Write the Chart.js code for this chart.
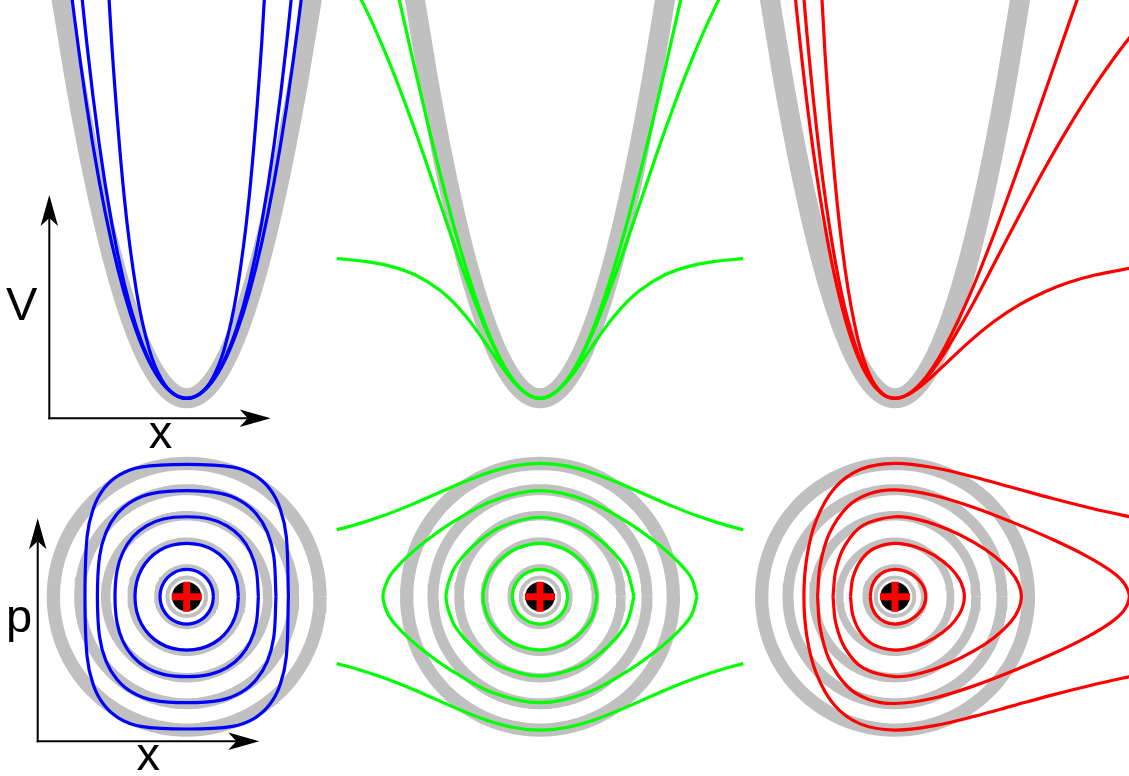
<!DOCTYPE html>
<html>
<head>
<meta charset="utf-8">
<script src="https://cdn.jsdelivr.net/npm/chart.js@4.4.1/dist/chart.umd.min.js"></script>
<style>
  html, body { margin: 0; padding: 0; background: #ffffff; }
  #wrap { position: relative; width: 1129px; height: 776px; }
  canvas { display: block; }
</style>
</head>
<body>
<div id="wrap"><canvas id="c" width="1129" height="776"></canvas></div>
<script>
// ---------- Top row: potential wells V(x) (half-wells are mirrored about x = 0) ----------
const wellX          = [0, 0.5, 1, 1.5, 2, 2.5, 3, 3.5, 4, 4.5, 5, 5.5];
const harmonicV      = [0, 0.125, 0.5, 1.125, 2, 3.125, 4.5, 6.125, 8, 10.125, 12.5, 15.125];

// stiffened wells (blue)
const quarticWeakV   = [0, 0.125, 0.505, 1.148, 2.074, 3.305, 4.873, 6.815, 9.178, 12.011, 15.375, 19.33];
const quarticMidX    = [0, 0.5, 1, 1.5, 2, 2.5, 3, 3.5, 4, 4.5, 5];
const quarticMidV    = [0, 0.126, 0.512, 1.188, 2.198, 3.609, 5.504, 7.986, 11.174, 15.21, 20.25];
const quarticStrongX = [0, 0.5, 1, 1.5, 2, 2.5, 3, 3.25, 3.5];
const quarticStrongV = [0, 0.130, 0.582, 1.540, 3.312, 6.328, 11.142, 14.43, 18.43];

// softened, saturating wells (green)
const softShallowX   = [0, 0.5, 1, 1.5, 2, 2.5, 3, 3.5, 4, 5, 6, 7, 8.13];
const softShallowV   = [0, 0.123, 0.467, 0.963, 1.529, 2.093, 2.604, 3.039, 3.390, 3.876, 4.150, 4.297, 4.382];
const softMidX       = [0, 1, 2, 3, 4, 5, 6, 7, 8];
const softMidV       = [0, 0.491, 1.863, 3.851, 6.130, 8.414, 10.49, 12.27, 13.72];
const softDeepX      = [0, 1, 2, 3, 4, 5, 6, 6.5];
const softDeepV      = [0, 0.4965, 1.939, 4.191, 7.064, 10.335, 13.79, 15.52];

// asymmetric (Morse-like) wells (red)
const morseShallowX  = [-3.2, -2.8, -2.4, -2, -1.5, -1, -0.5, 0, 0.5, 1, 1.5, 2, 3, 4, 5, 6, 7, 8, 9.5];
const morseShallowV  = [16.54, 10.833, 6.828, 4.077, 1.908, 0.7088, 0.1488, 0, 0.1064, 0.3623, 0.6972, 1.0653, 1.795, 2.433, 2.948, 3.346, 3.647, 3.869, 4.097];
const morseMidX      = [-4, -3.5, -3, -2.5, -2, -1.5, -1, -0.5, 0, 0.5, 1, 1.5, 2, 3, 4, 5, 6, 7, 8, 9, 9.5];
const morseMidV      = [16.10, 11.253, 7.555, 4.799, 2.812, 1.450, 0.5917, 0.1359, 0, 0.1153, 0.4250, 0.8817, 1.4494, 2.794, 4.276, 5.777, 7.226, 8.580, 9.819, 10.93, 11.44];
const morseDeepX     = [-4.4, -4, -3.5, -3, -2.5, -2, -1.5, -1, -0.5, 0, 0.5, 1, 1.5, 2, 3, 4, 5, 6, 7, 8];
const morseDeepV     = [16.09, 12.68, 9.144, 6.337, 4.152, 2.507, 1.332, 0.5595, 0.1321, 0, 0.1184, 0.4481, 0.9551, 1.611, 3.261, 5.226, 7.377, 9.617, 11.87, 14.09];

// ---------- Bottom row: phase-space orbits (x, p) ----------
// harmonic orbits: circle radii
const ringR = [1.114, 2.11, 3.08, 4.07, 5.07];

// stiffened orbits: first quadrant, from turning point (p = 0) up to x = 0
const blueOrbitX = [
  [1.015, 0.980, 0.879, 0.718, 0.508, 0.263, 0],
  [1.966, 1.902, 1.714, 1.413, 1.016, 0.543, 0],
  [2.726, 2.648, 2.418, 2.042, 1.530, 0.884, 0],
  [3.395, 3.312, 3.064, 2.650, 2.069, 1.293, 0],
  [3.867, 3.789, 3.553, 3.154, 2.572, 1.746, 0]
];
const blueOrbitP = [
  [0, 0.269, 0.520, 0.735, 0.901, 1.005, 1.04],
  [0, 0.560, 1.049, 1.459, 1.770, 1.964, 2.03],
  [0, 0.986, 1.706, 2.278, 2.696, 2.953, 3.04],
  [0, 1.535, 2.456, 3.146, 3.637, 3.931, 4.03],
  [0, 2.271, 3.346, 4.102, 4.622, 4.928, 5.03]
];

// softened orbits: first quadrant, bound ones
const greenOrbitX = [
  [1.057, 0.983, 0.867, 0.687, 0.423, 0],
  [2.170, 2.018, 1.779, 1.411, 0.868, 0],
  [3.573, 3.323, 2.930, 2.322, 1.429, 0],
  [5.971, 5.781, 5.483, 5.006, 4.291, 3.278, 1.788, 0]
];
const greenOrbitP = [
  [0, 0.377, 0.589, 0.785, 0.951, 1.04],
  [0, 0.704, 1.110, 1.497, 1.840, 2.03],
  [0, 0.950, 1.527, 2.119, 2.683, 3.02],
  [0, 0.658, 1.077, 1.564, 2.155, 2.861, 3.650, 4.03]
];
// softened well, unbound orbit (upper branch, x >= 0)
const greenFreeX = [0, 1, 2, 3, 4, 5, 6, 7, 7.73];
const greenFreeP = [5.07, 4.973, 4.705, 4.320, 3.884, 3.454, 3.066, 2.740, 2.545];

// Morse-like orbits: upper half, left turning point to right turning point
const redOrbitX = [
  [-0.942, -0.88, -0.7, -0.4, 0, 0.4, 0.75, 1.0, 1.12, 1.171],
  [-1.694, -1.6, -1.3, -0.8, 0, 0.8, 1.5, 2.1, 2.45, 2.6, 2.636],
  [-2.357, -2.25, -1.9, -1.2, 0, 1, 2, 3, 3.8, 4.4, 4.7, 4.805],
  [-2.945, -2.85, -2.5, -1.8, -1, 0, 1.5, 3, 4.5, 6, 7.3, 8.2, 8.7, 8.912]
];
const redOrbitP = [
  [0, 0.387, 0.717, 0.953, 1.04, 0.967, 0.774, 0.516, 0.289, 0],
  [0, 0.720, 1.376, 1.834, 2.03, 1.892, 1.568, 1.106, 0.658, 0.29, 0],
  [0, 1.009, 1.954, 2.718, 3.04, 2.903, 2.562, 2.064, 1.528, 0.961, 0.485, 0],
  [0, 1.173, 2.396, 3.424, 3.905, 4.06, 3.850, 3.391, 2.816, 2.172, 1.535, 0.986, 0.530, 0]
];
// Morse-like well, unbound orbit (upper branch)
const redFreeX = [-3.463, -3.35, -3.0, -2.3, -1.3, 0, 1.5, 3, 4.5, 6, 7.5, 9.3];
const redFreeP = [0, 1.512, 2.895, 4.125, 4.845, 5.07, 4.903, 4.552, 4.142, 3.733, 3.355, 2.958];

// ---------- layout & style ----------
const W = 1129, H = 776;
const COL_CX = [186.7, 540, 895];        // panel centres (px)
const WELL_BASE_Y = 398.3;               // bottom of the wells (px)
const PHASE_CY = 596.7;                  // phase-space origin (px)
const WELL_X_PX = 25, WELL_V_PX = 31.86; // px per unit, top row
const PHASE_PX = 26.3;                   // px per unit, bottom row

const GRAY = '#c0c0c0', BLUE = '#0000ff', GREEN = '#00ff00', RED = '#ff0000';
const RING_WIDTHS = [6.5, 7.6, 9.5, 11, 13.3];
const WELL_GRAY_WIDTH = 20;
const CURVE_WIDTH = 3.2;

// ---------- point builders ----------
function mirrored(xs, vs, sign) {
  const s = sign || 1, pts = [];
  for (let i = xs.length - 1; i >= 1; i--) pts.push({ x: -xs[i], y: s * vs[i] });
  for (let i = 0; i < xs.length; i++) pts.push({ x: xs[i], y: s * vs[i] });
  return pts;
}
function paired(xs, vs) { return xs.map((x, i) => ({ x: x, y: vs[i] })); }
function quadrantLoop(xs, ps) {
  const n = xs.length, pts = [];
  for (let i = 0; i < n; i++) pts.push({ x: xs[i], y: ps[i] });
  for (let i = n - 2; i >= 0; i--) pts.push({ x: -xs[i], y: ps[i] });
  for (let i = 1; i < n; i++) pts.push({ x: -xs[i], y: -ps[i] });
  for (let i = n - 2; i >= 0; i--) pts.push({ x: xs[i], y: -ps[i] });
  return pts;
}
function halfLoop(xs, ps) {
  const n = xs.length, pts = [];
  for (let i = 0; i < n; i++) pts.push({ x: xs[i], y: ps[i] });
  for (let i = n - 2; i >= 0; i--) pts.push({ x: xs[i], y: -ps[i] });
  return pts;
}
function openBranch(xs, ps) {
  const n = xs.length, pts = [];
  for (let i = n - 1; i >= 0; i--) pts.push({ x: xs[i], y: ps[i] });
  for (let i = 1; i < n; i++) pts.push({ x: xs[i], y: -ps[i] });
  return pts;
}
function circle(r) {
  const pts = [], N = 120;
  for (let k = 0; k <= N; k++) {
    const t = 2 * Math.PI * k / N;
    pts.push({ x: r * Math.cos(t), y: r * Math.sin(t) });
  }
  return pts;
}

const datasets = [];
function addLine(points, xId, yId, color, width, extra) {
  datasets.push(Object.assign({
    data: points, xAxisID: xId, yAxisID: yId, showLine: true,
    borderColor: color, backgroundColor: color, borderWidth: width,
    pointRadius: 0, pointHoverRadius: 0, fill: false, tension: 0,
    borderCapStyle: 'butt', borderJoinStyle: 'round', order: 5
  }, extra || {}));
}
const MONO = { cubicInterpolationMode: 'monotone' };
const SMOOTH = { tension: 0.35 };

// top-left: stiffened wells
addLine(mirrored(wellX, harmonicV), 'xTL', 'yT', GRAY, WELL_GRAY_WIDTH, Object.assign({ order: 10 }, MONO));
addLine(mirrored(wellX, quarticWeakV), 'xTL', 'yT', BLUE, CURVE_WIDTH, MONO);
addLine(mirrored(quarticMidX, quarticMidV), 'xTL', 'yT', BLUE, CURVE_WIDTH, MONO);
addLine(mirrored(quarticStrongX, quarticStrongV), 'xTL', 'yT', BLUE, CURVE_WIDTH, MONO);

// top-middle: softened wells
addLine(mirrored(wellX, harmonicV), 'xTM', 'yT', GRAY, WELL_GRAY_WIDTH, Object.assign({ order: 10 }, MONO));
addLine(mirrored(softShallowX, softShallowV), 'xTM', 'yT', GREEN, CURVE_WIDTH, MONO);
addLine(mirrored(softMidX, softMidV), 'xTM', 'yT', GREEN, CURVE_WIDTH, MONO);
addLine(mirrored(softDeepX, softDeepV), 'xTM', 'yT', GREEN, CURVE_WIDTH, MONO);

// top-right: Morse-like wells
addLine(mirrored(wellX, harmonicV), 'xTR', 'yT', GRAY, WELL_GRAY_WIDTH, Object.assign({ order: 10 }, MONO));
addLine(paired(morseShallowX, morseShallowV), 'xTR', 'yT', RED, CURVE_WIDTH, MONO);
addLine(paired(morseMidX, morseMidV), 'xTR', 'yT', RED, CURVE_WIDTH, MONO);
addLine(paired(morseDeepX, morseDeepV), 'xTR', 'yT', RED, CURVE_WIDTH, MONO);

// bottom row: harmonic rings behind every panel
['xBL', 'xBM', 'xBR'].forEach(function (xId) {
  ringR.forEach(function (r, i) {
    addLine(circle(r), xId, 'yB', GRAY, RING_WIDTHS[i], { order: 10 });
  });
});

blueOrbitX.forEach(function (xs, i) {
  addLine(quadrantLoop(xs, blueOrbitP[i]), 'xBL', 'yB', BLUE, CURVE_WIDTH, SMOOTH);
});
greenOrbitX.forEach(function (xs, i) {
  addLine(quadrantLoop(xs, greenOrbitP[i]), 'xBM', 'yB', GREEN, CURVE_WIDTH, SMOOTH);
});
addLine(mirrored(greenFreeX, greenFreeP, 1), 'xBM', 'yB', GREEN, CURVE_WIDTH, MONO);
addLine(mirrored(greenFreeX, greenFreeP, -1), 'xBM', 'yB', GREEN, CURVE_WIDTH, MONO);

redOrbitX.forEach(function (xs, i) {
  addLine(halfLoop(xs, redOrbitP[i]), 'xBR', 'yB', RED, CURVE_WIDTH, SMOOTH);
});
addLine(openBranch(redFreeX, redFreeP), 'xBR', 'yB', RED, CURVE_WIDTH, SMOOTH);

// fixed point marker at the origin of each phase portrait
['xBL', 'xBM', 'xBR'].forEach(function (xId) {
  const origin = [{ x: 0, y: 0 }];
  datasets.push({ data: origin, xAxisID: xId, yAxisID: 'yB', showLine: false, order: 3,
    pointStyle: 'circle', pointRadius: 19.3, pointHoverRadius: 19.3,
    pointBackgroundColor: '#ffffff', pointBorderColor: GRAY, pointBorderWidth: 4 });
  datasets.push({ data: origin, xAxisID: xId, yAxisID: 'yB', showLine: false, order: 2,
    pointStyle: 'circle', pointRadius: 14.7, pointHoverRadius: 14.7,
    pointBackgroundColor: '#000000', pointBorderColor: '#000000', pointBorderWidth: 0 });
  datasets.push({ data: origin, xAxisID: xId, yAxisID: 'yB', showLine: false, order: 1,
    pointStyle: 'cross', pointRadius: 15, pointHoverRadius: 15,
    pointBackgroundColor: RED, pointBorderColor: RED, pointBorderWidth: 7 });
});

// ---------- scales: one x scale per panel, one y scale per row ----------
function xScale(col, unit) {
  const cx = COL_CX[col];
  return { type: 'linear', display: false, min: -cx / unit, max: (W - cx) / unit };
}
const hidden = { type: 'linear', display: false };
const scales = {
  x: hidden, y: hidden,
  xTL: xScale(0, WELL_X_PX), xTM: xScale(1, WELL_X_PX), xTR: xScale(2, WELL_X_PX),
  xBL: xScale(0, PHASE_PX), xBM: xScale(1, PHASE_PX), xBR: xScale(2, PHASE_PX),
  yT: { type: 'linear', display: false, min: -(H - WELL_BASE_Y) / WELL_V_PX, max: WELL_BASE_Y / WELL_V_PX },
  yB: { type: 'linear', display: false, min: -(H - PHASE_CY) / PHASE_PX, max: PHASE_CY / PHASE_PX }
};

// ---------- coordinate arrows and their letters ----------
const AXES = [
  { corner: [49.3, 418.3], up: 195, right: 270.7, yLabel: ['V', 21.7, 320], xLabel: ['x', 160.5, 448] },
  { corner: [37.7, 741.3], up: 518.3, right: 259.3, yLabel: ['p', 19, 632], xLabel: ['x', 148.3, 770] }
];
function drawArrow(ctx, x0, y0, x1, y1) {
  const ang = Math.atan2(y1 - y0, x1 - x0);
  const len = Math.hypot(x1 - x0, y1 - y0);
  const headLen = 31, headHalf = 8.7, notch = 23;
  ctx.save();
  ctx.translate(x1, y1);
  ctx.rotate(ang);
  ctx.beginPath();
  ctx.moveTo(-len - 1, 0);
  ctx.lineTo(-notch, 0);
  ctx.lineWidth = 2;
  ctx.lineCap = 'butt';
  ctx.strokeStyle = '#000000';
  ctx.stroke();
  ctx.beginPath();
  ctx.moveTo(0, 0);
  ctx.lineTo(-headLen, -headHalf);
  ctx.lineTo(-notch, 0);
  ctx.lineTo(-headLen, headHalf);
  ctx.closePath();
  ctx.fillStyle = '#000000';
  ctx.fill();
  ctx.restore();
}
const axesPlugin = {
  id: 'phaseAxes',
  afterDatasetsDraw(chart) {
    const ctx = chart.ctx;
    ctx.save();
    AXES.forEach(function (a) {
      const cx = a.corner[0], cy = a.corner[1];
      drawArrow(ctx, cx, cy, cx, a.up);
      drawArrow(ctx, cx, cy, a.right, cy);
      ctx.fillStyle = '#000000';
      ctx.font = '47px "Liberation Sans", Arial, Helvetica, sans-serif';
      ctx.textAlign = 'center';
      ctx.textBaseline = 'alphabetic';
      ctx.fillText(a.yLabel[0], a.yLabel[1], a.yLabel[2]);
      ctx.fillText(a.xLabel[0], a.xLabel[1], a.xLabel[2]);
    });
    ctx.restore();
  }
};

new Chart(document.getElementById('c'), {
  type: 'scatter',
  data: { datasets: datasets },
  options: {
    responsive: false,
    devicePixelRatio: 1,
    animation: false,
    events: [],
    layout: { autoPadding: false, padding: 0 },
    scales: scales,
    plugins: { legend: { display: false }, tooltip: { enabled: false } }
  },
  plugins: [axesPlugin]
});
</script>
</body>
</html>
